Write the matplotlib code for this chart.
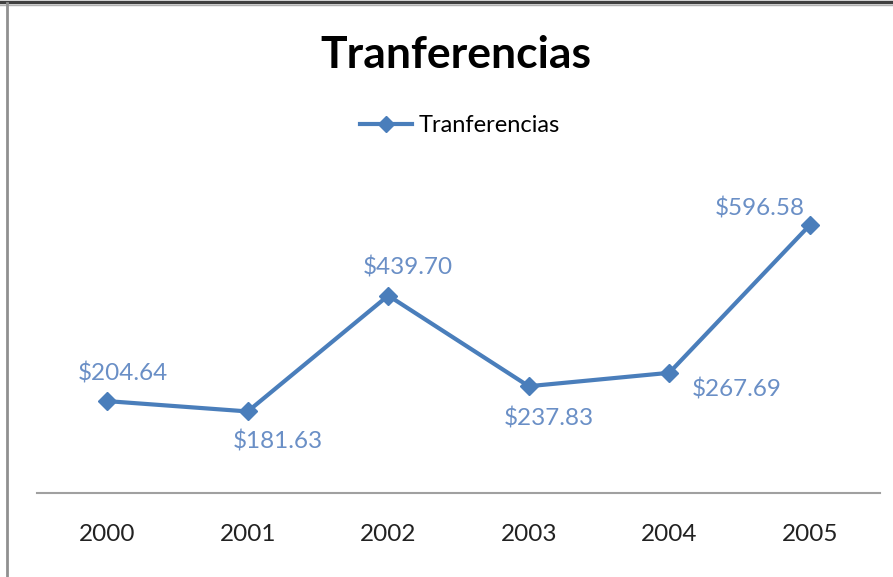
import matplotlib
import matplotlib.pyplot as plt
from matplotlib.lines import Line2D

matplotlib.use('Agg')

years = ['2000', '2001', '2002', '2003', '2004', '2005']
values = [204.64, 181.63, 439.70, 237.83, 267.69, 596.58]
# смещения подписей (в пикселях), как в исходной диаграмме
label_dx = [16, 30, 20, 20, 67, -50]
label_dy = [28, -30, 28, -32, -17, 17]

plt.rcParams['font.family'] = ['Lato', 'DejaVu Sans']

blue = '#4a7ebb'
label_blue = '#6a8fc6'

fig = plt.figure(figsize=(8.93, 5.77), dpi=100)
ax = fig.add_axes([37 / 893, 1 - 493 / 577, 843 / 893, 314.3 / 577])

x = list(range(len(years)))
ax.plot(x, values, color=blue, linewidth=3, marker='D', markersize=9,
        markeredgecolor=blue, markerfacecolor=blue)

for xi, v, dx, dy in zip(x, values, label_dx, label_dy):
    ax.annotate('${:.2f}'.format(v), (xi, v),
                xytext=(dx * 0.72, dy * 0.72), textcoords='offset points',
                ha='center', va='center', fontsize=17.5, color=label_blue)

ax.set_xlim(-0.5, 5.5)
ax.set_ylim(0, 700)
ax.set_xticks(x)
ax.set_xticklabels(years, fontsize=17.5, color='#222222')
ax.tick_params(axis='x', length=0, pad=22)
ax.set_yticks([])
for side in ['left', 'right', 'top']:
    ax.spines[side].set_visible(False)
ax.spines['bottom'].set_color('#a0a0a0')
ax.spines['bottom'].set_linewidth(1.5)

fig.text(456 / 893, 1 - 55 / 577, 'Tranferencias', ha='center', va='center',
         fontsize=32, fontweight='bold', color='black')

handle = Line2D([], [], color=blue, linewidth=3, marker='D', markersize=8)
fig.legend([handle], ['Tranferencias'], loc='center',
           bbox_to_anchor=(460 / 893, 1 - 126 / 577), frameon=False,
           fontsize=17, handlelength=2.2, handletextpad=0.3)

# рамка диаграммы
fig.add_artist(Line2D([0, 1], [1 - 1.5 / 577] * 2, color='#404040', linewidth=2.5,
                      transform=fig.transFigure))
fig.add_artist(Line2D([0, 1], [1 - 4.5 / 577] * 2, color='#b0b0b0', linewidth=1,
                      transform=fig.transFigure))
fig.add_artist(Line2D([7 / 893] * 2, [0, 1 - 3 / 577], color='#909090', linewidth=2,
                      transform=fig.transFigure))

fig.savefig('out.png', dpi=100)
